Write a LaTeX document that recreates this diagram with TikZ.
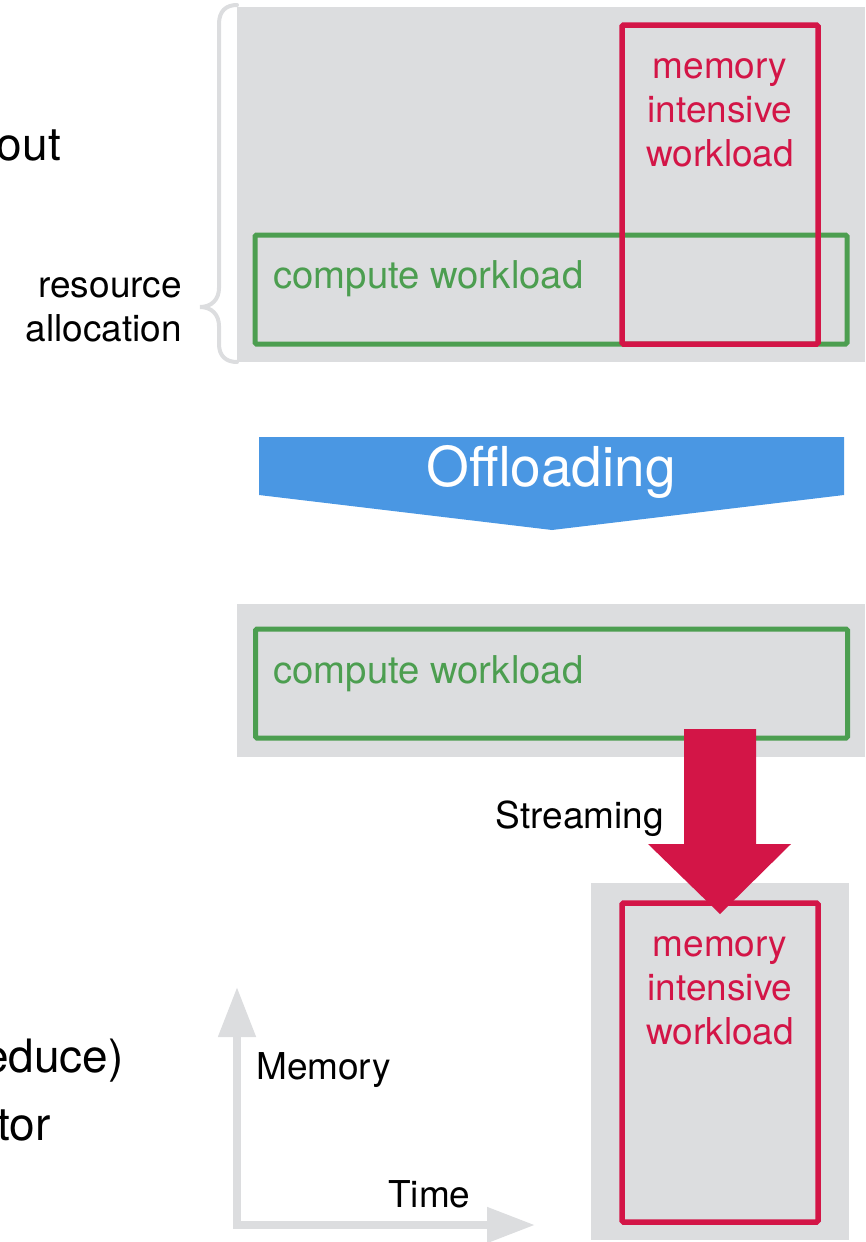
\documentclass[tikz,border=0pt]{standalone}
\usepackage{fontspec}
\setmainfont{TeX Gyre Heros}
\usetikzlibrary{arrows.meta}

\definecolor{panelgray}{RGB}{220,221,223}
\definecolor{memred}{RGB}{211,21,71}
\definecolor{compgreen}{RGB}{76,158,80}
\definecolor{offblue}{RGB}{74,151,227}

\tikzset{
  panel/.style={fill=panelgray, draw=none, inner sep=0pt, outer sep=0pt},
  compbox/.style={draw=compgreen, line width=5pt, rounded corners=1.5pt, inner sep=0pt},
  membox/.style={draw=memred, line width=5.5pt, rounded corners=1.5pt, inner sep=0pt},
  label/.style={inner sep=0pt, font=\fontsize{37}{44}\selectfont},
  comptext/.style={inner sep=0pt, font=\fontsize{38.3}{44}\selectfont, text=compgreen, anchor=base west},
  memtext/.style={label, text=memred, align=center, anchor=base},
  bigtext/.style={inner sep=0pt, font=\fontsize{46}{64}\selectfont, anchor=base east},
  axis/.style={draw=panelgray, line width=8pt,
    {Triangle[length=50pt,width=36pt]}-{Triangle[length=48pt,width=34pt]}},
  bracket/.style={draw=panelgray, line width=4pt, line cap=round}
}

\begin{document}
\begin{tikzpicture}[x=1pt,y=-1pt]
  \useasboundingbox (0,0) rectangle (865,1242);
  \clip (0,0) rectangle (865,1242);

  % slide text running in from the left
  \node[bigtext] (txtA) at (61,160) {out};
  \node[bigtext] (txtB) at (124,1072) {educe)};
  \node[bigtext] (txtC) at (51,1140) {tor};

  % ---- before offloading: both workloads share one allocation ----
  \node[panel, anchor=north west, minimum width=628pt, minimum height=355pt] (topPanel) at (237,7) {};
  \node[compbox, minimum width=592pt, minimum height=109pt] (compTop) at (551,289.5) {};
  \node[membox, minimum width=196pt, minimum height=319pt] (memTop) at (720,184.5) {};
  \node[comptext] (compTopText) at (273,288) {compute workload};
  % multi-line labels are anchored at the baseline of their last line
  \node[memtext] (memTopText) at (720,166) {memory\\intensive\\workload};

  % brace marking the resource allocation
  \draw[bracket] (237,5) .. controls (226,5) and (219,11) .. (219,24)
    -- (219,288) .. controls (219,299) and (212,307) .. (200,307)
    .. controls (212,307) and (219,315) .. (219,326)
    -- (219,344) .. controls (219,356) and (226,362) .. (237,362);
  \node[label, align=right, anchor=base east] (alloc) at (182,341) {resource\\allocation};

  % ---- offloading banner arrow ----
  \fill[offblue] (259,437) -- (844,437) -- (844,495) -- (552,530) -- (259,495) -- cycle;
  \node[inner sep=0pt, text=white, font=\fontsize{55}{60}\selectfont, anchor=base] (offload) at (551,486) {Offloading};

  % ---- after offloading: compute and memory split ----
  \node[panel, anchor=north west, minimum width=628pt, minimum height=153pt] (midPanel) at (237,604) {};
  \node[compbox, minimum width=592pt, minimum height=109pt] (compMid) at (551.5,683.5) {};
  \node[comptext] (compMidText) at (273,683) {compute workload};

  \node[panel, anchor=north west, minimum width=258pt, minimum height=357pt] (lowPanel) at (591,883) {};
  \node[membox, minimum width=196pt, minimum height=319pt] (memLow) at (720,1062.5) {};
  \node[memtext] (memLowText) at (720,1044) {memory\\intensive\\workload};

  % streaming arrow from the compute panel down to the memory panel
  \coordinate (streamTop) at (720,729);
  \coordinate (streamTip) at (720,914);
  \fill[memred] (684,729) -- (756,729) -- (756,844) -- (791,844) -- (streamTip)
    -- (648,844) -- (684,844) -- cycle;
  \node[label, anchor=base east] (streamText) at (664,828) {Streaming};

  % memory / time axes
  \coordinate (axTop) at (237,987);
  \coordinate (axOrigin) at (237,1225);
  \coordinate (axRight) at (535,1225);
  \draw[axis, line join=miter] (axTop) -- (axOrigin) -- (axRight);
  \node[label, anchor=base west] (memAxis) at (256,1079) {Memory};
  \node[label, anchor=base west] (timeAxis) at (388,1207) {Time};
\end{tikzpicture}
\end{document}
